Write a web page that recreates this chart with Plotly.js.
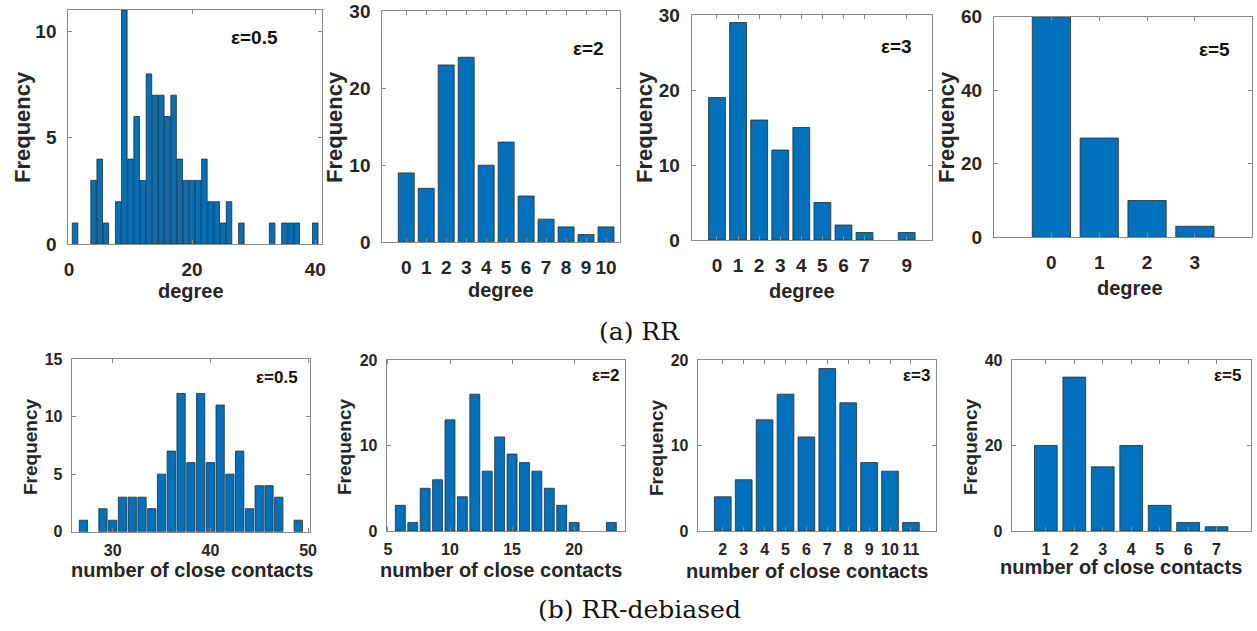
<!DOCTYPE html>
<html>
<head>
<meta charset="utf-8">
<script src="https://cdn.plot.ly/plotly-3.0.1.min.js"></script>
<style>html,body{margin:0;padding:0;background:#fff;}#chart{width:1257px;height:631px;}</style>
</head>
<body>
<div id="chart"></div>
<script>
// ---- data (a) RR ----
const rr05Degree = [1,4,5,6,8,9,10,11,12,13,14,15,16,17,18,19,20,21,22,23,24,25,26,28,33,35,36,37,40];
const rr05Freq   = [1,3,4,1,2,11,4,6,3,8,7,7,6,7,4,3,3,3,4,2,2,1,2,1,1,1,1,1,1];
const rr2Degree = [0,1,2,3,4,5,6,7,8,9,10];
const rr2Freq   = [9,7,23,24,10,13,6,3,2,1,2];
const rr3Degree = [0,1,2,3,4,5,6,7,9];
const rr3Freq   = [19,29,16,12,15,5,2,1,1];
const rr5Degree = [0,1,2,3];
const rr5Freq   = [60,27,10,3];
// ---- data (b) RR-debiased ----
const db05Contacts = [27,29,30,31,32,33,34,35,36,37,38,39,40,41,42,43,44,45,46,47,49];
const db05Freq     = [1,2,1,3,3,3,2,5,7,12,6,12,6,11,5,7,2,4,4,3,1];
const db2Contacts = [6,7,8,9,10,11,12,13,14,15,16,17,18,19,20,23];
const db2Freq     = [3,1,5,6,13,4,16,7,11,9,8,7,5,3,1,1];
const db3Contacts = [2,3,4,5,6,7,8,9,10,11];
const db3Freq     = [4,6,13,16,11,19,15,8,7,1];
const db5Contacts = [1,2,3,4,5,6,7];
const db5Freq     = [20,36,15,20,6,2,1];
// tick labels
const rr05XTicks = [0,20,40];
const rr2XTicks = [0,1,2,3,4,5,6,7,8,9,10];
const rr3XTicks = [0,1,2,3,4,5,6,7,9];
const rr5XTicks = [0,1,2,3];
const db05XTicks = [30,40,50];
const db2XTicks = [5,10,15,20];
const db3XTicks = [2,3,4,5,6,7,8,9,10,11];
const db5XTicks = [1,2,3,4,5,6,7];
const epsLabels = ['ε=0.5','ε=2','ε=3','ε=5'];

const W = 1257, H = 631;
const FONT = 'Liberation Sans, Arial, sans-serif';
const BAR = '#0072BD';
const AXC = '#8a8a8a';

const panels = [
  {x: rr05Degree, y: rr05Freq, w: 0.9, box:[68.3,321.7,10,244.3], xr:[-0.1,41.05], yr:[0,11], xt: rr05XTicks, yt:[0,5,10], top:true,
   eps:[254,38], xlab:'degree', xl:[191,291], yl:[22,127]},
  {x: rr2Degree, y: rr2Freq, w: 0.8, box:[382.3,620,11,242.3], xr:[-1.2,10.7], yr:[0,30], xt: rr2XTicks, yt:[0,10,20,30], top:true,
   eps:[588,48], xlab:'degree', xl:[501,290], yl:[334,127]},
  {x: rr3Degree, y: rr3Freq, w: 0.8, box:[691.7,932,15,240], xr:[-1.2,10.2], yr:[0,30], xt: rr3XTicks, yt:[0,10,20,30], top:true,
   eps:[896,47], xlab:'degree', xl:[802,291], yl:[644,127]},
  {x: rr5Degree, y: rr5Freq, w: 0.8, box:[994,1252.3,16.7,237.3], xr:[-1.2,4.2], yr:[0,60], xt: rr5XTicks, yt:[0,20,40,60], top:true,
   eps:[1214,50], xlab:'degree', xl:[1130,288], yl:[946,127]},
  {x: db05Contacts, y: db05Freq, w: 0.85, box:[71.7,310,359,531.7], xr:[25.8,50.2], yr:[0,15], xt: db05XTicks, yt:[0,5,10,15], top:false,
   eps:[277,377], xlab:'number of close contacts', xl:[192,570], yl:[30,447]},
  {x: db2Contacts, y: db2Freq, w: 0.8, box:[386.7,625,360,531], xr:[4.9,24.1], yr:[0,20], xt: db2XTicks, yt:[0,10,20], top:false,
   eps:[605,375], xlab:'number of close contacts', xl:[501,570], yl:[344,447]},
  {x: db3Contacts, y: db3Freq, w: 0.8, box:[697.7,936,360,531], xr:[0.8,12.2], yr:[0,20], xt: db3XTicks, yt:[0,10,20], top:false,
   eps:[916,375], xlab:'number of close contacts', xl:[807,571], yl:[656,447]},
  {x: db5Contacts, y: db5Freq, w: 0.8, box:[1011.7,1250.7,360,531], xr:[-0.2,8.2], yr:[0,40], xt: db5XTicks, yt:[0,20,40], top:false,
   eps:[1227,375], xlab:'number of close contacts', xl:[1121,567], yl:[970,447]}
];

const data = [];
const layout = {
  width: W, height: H, margin:{l:0,r:0,t:0,b:0}, showlegend:false,
  paper_bgcolor:'#fff', plot_bgcolor:'#fff', bargap:0, annotations:[]
};
const px = v => v / W;
const py = v => 1 - v / H;

panels.forEach((p, i) => {
  const n = i + 1;
  const xa = n === 1 ? 'x' : 'x' + n;
  const ya = n === 1 ? 'y' : 'y' + n;
  data.push({
    type:'bar', x:p.x, y:p.y, width:p.w, xaxis:xa, yaxis:ya,
    marker:{color:BAR, line:{color:'#2b2b2b', width:0.8}}, hoverinfo:'x+y'
  });
  const tickSize = p.top ? 19 : 16;
  const common = {
    showline:true, linecolor:AXC, linewidth:1, mirror:'ticks', ticks:'inside', ticklen:4, tickcolor:AXC,
    showgrid:false, zeroline:false, fixedrange:true,
    tickfont:{family:FONT, size:tickSize, color:'#262626', weight:'bold'}
  };
  layout['xaxis' + (n === 1 ? '' : n)] = Object.assign({}, common, {
    domain:[px(p.box[0]), px(p.box[1])], range:p.xr, tickmode:'array', tickvals:p.xt,
    anchor: ya, ticklabelstandoff: p.top ? 8 : 4
  });
  layout['yaxis' + (n === 1 ? '' : n)] = Object.assign({}, common, {
    domain:[py(p.box[3]), py(p.box[2])], range:p.yr, tickmode:'array', tickvals:p.yt,
    anchor: xa, ticklabelstandoff: p.top ? 7 : 5
  });
  // epsilon label
  layout.annotations.push({xref:'paper', yref:'paper', x:px(p.eps[0]), y:py(p.eps[1]), xanchor:'center', yanchor:'middle',
    text:epsLabels[i % 4], showarrow:false, font:{family:FONT, size:p.top ? 19 : 17, color:'#111', weight:'bold'}});
  // x label
  layout.annotations.push({xref:'paper', yref:'paper', x:px(p.xl[0]), y:py(p.xl[1]), xanchor:'center', yanchor:'middle',
    text:p.xlab, showarrow:false, font:{family:FONT, size:20, color:'#262626', weight:'bold'}});
  // y label
  layout.annotations.push({xref:'paper', yref:'paper', x:px(p.yl[0]), y:py(p.yl[1]), xanchor:'center', yanchor:'middle',
    text:'Frequency', textangle:-90, showarrow:false, font:{family:FONT, size:p.top ? 22 : 19, color:'#262626', weight:'bold'}});
});

layout.annotations.push({xref:'paper', yref:'paper', x:px(639), y:py(331), xanchor:'center', yanchor:'middle',
  text:'(a) RR', showarrow:false, font:{family:'DejaVu Serif, Liberation Serif, serif', size:25, color:'#111'}});
layout.annotations.push({xref:'paper', yref:'paper', x:px(639), y:py(609), xanchor:'center', yanchor:'middle',
  text:'(b) RR-debiased', showarrow:false, font:{family:'DejaVu Serif, Liberation Serif, serif', size:25, color:'#111'}});

Plotly.newPlot('chart', data, layout, {displayModeBar:false, staticPlot:true});
</script>
</body>
</html>
